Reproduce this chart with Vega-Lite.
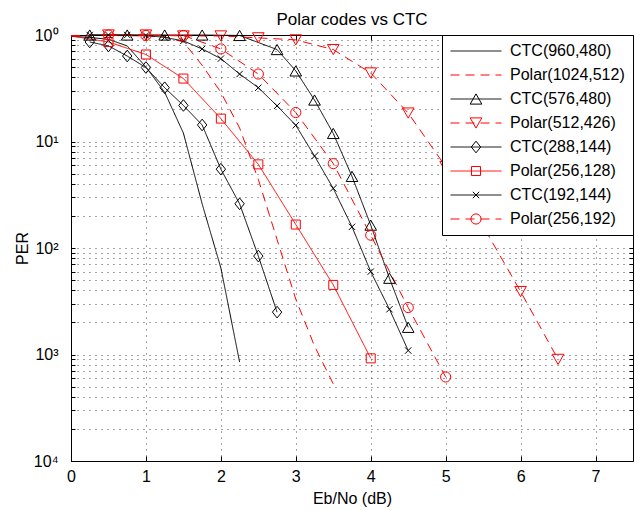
{
  "$schema": "https://vega.github.io/schema/vega-lite/v6.json",
  "width": 562,
  "height": 426,
  "autosize": "none",
  "padding": {"left": 71, "top": 35, "right": 2, "bottom": 49},
  "title": {"text": "Polar codes vs CTC", "fontSize": 17, "fontWeight": "normal", "frame": "group", "anchor": "middle", "offset": -15, "baseline": "alphabetic", "color": "#000"},
  "config": {
    "font": "Liberation Sans",
    "view": {"stroke": "#000", "strokeWidth": 1}
  },
  "data": {"values": [
    {"s": "CTC(960,480)", "x": 0, "p": 0.97},
    {"s": "CTC(960,480)", "x": 0.25, "p": 0.95},
    {"s": "CTC(960,480)", "x": 0.5, "p": 0.91},
    {"s": "CTC(960,480)", "x": 0.75, "p": 0.79},
    {"s": "CTC(960,480)", "x": 1.0, "p": 0.5},
    {"s": "CTC(960,480)", "x": 1.25, "p": 0.29},
    {"s": "CTC(960,480)", "x": 1.5, "p": 0.12},
    {"s": "CTC(960,480)", "x": 1.75, "p": 0.026},
    {"s": "CTC(960,480)", "x": 2.0, "p": 0.0065},
    {"s": "CTC(960,480)", "x": 2.25, "p": 0.00085},
    {"s": "Polar(1024,512)", "x": 0, "p": 0.99},
    {"s": "Polar(1024,512)", "x": 0.5, "p": 0.99},
    {"s": "Polar(1024,512)", "x": 1.0, "p": 0.98},
    {"s": "Polar(1024,512)", "x": 1.25, "p": 0.96},
    {"s": "Polar(1024,512)", "x": 1.5, "p": 0.86},
    {"s": "Polar(1024,512)", "x": 1.75, "p": 0.52},
    {"s": "Polar(1024,512)", "x": 2.0, "p": 0.29},
    {"s": "Polar(1024,512)", "x": 2.25, "p": 0.134},
    {"s": "Polar(1024,512)", "x": 2.5, "p": 0.044},
    {"s": "Polar(1024,512)", "x": 2.75, "p": 0.012},
    {"s": "Polar(1024,512)", "x": 3.0, "p": 0.0033},
    {"s": "Polar(1024,512)", "x": 3.25, "p": 0.0012},
    {"s": "Polar(1024,512)", "x": 3.5, "p": 0.00053},
    {"s": "CTC(576,480)", "x": 0.25, "p": 1.0},
    {"s": "CTC(576,480)", "x": 0.75, "p": 1.0},
    {"s": "CTC(576,480)", "x": 1.25, "p": 1.0},
    {"s": "CTC(576,480)", "x": 1.75, "p": 1.0},
    {"s": "CTC(576,480)", "x": 2.25, "p": 0.99},
    {"s": "CTC(576,480)", "x": 2.75, "p": 0.73},
    {"s": "CTC(576,480)", "x": 3.0, "p": 0.46},
    {"s": "CTC(576,480)", "x": 3.25, "p": 0.245},
    {"s": "CTC(576,480)", "x": 3.5, "p": 0.119},
    {"s": "CTC(576,480)", "x": 3.75, "p": 0.047},
    {"s": "CTC(576,480)", "x": 4.0, "p": 0.0164},
    {"s": "CTC(576,480)", "x": 4.25, "p": 0.0052},
    {"s": "CTC(576,480)", "x": 4.5, "p": 0.0018},
    {"s": "Polar(512,426)", "x": 0.5, "p": 1.0},
    {"s": "Polar(512,426)", "x": 1.0, "p": 1.0},
    {"s": "Polar(512,426)", "x": 1.5, "p": 0.98},
    {"s": "Polar(512,426)", "x": 2.0, "p": 0.98},
    {"s": "Polar(512,426)", "x": 2.5, "p": 0.94},
    {"s": "Polar(512,426)", "x": 3.0, "p": 0.9},
    {"s": "Polar(512,426)", "x": 3.5, "p": 0.73},
    {"s": "Polar(512,426)", "x": 4.0, "p": 0.44},
    {"s": "Polar(512,426)", "x": 4.5, "p": 0.185},
    {"s": "Polar(512,426)", "x": 5.0, "p": 0.058},
    {"s": "Polar(512,426)", "x": 5.5, "p": 0.016},
    {"s": "Polar(512,426)", "x": 6.0, "p": 0.0039},
    {"s": "Polar(512,426)", "x": 6.5, "p": 0.0009},
    {"s": "CTC(288,144)", "x": 0.25, "p": 0.86},
    {"s": "CTC(288,144)", "x": 0.5, "p": 0.79},
    {"s": "CTC(288,144)", "x": 0.75, "p": 0.635},
    {"s": "CTC(288,144)", "x": 1.0, "p": 0.495},
    {"s": "CTC(288,144)", "x": 1.25, "p": 0.32},
    {"s": "CTC(288,144)", "x": 1.5, "p": 0.218},
    {"s": "CTC(288,144)", "x": 1.75, "p": 0.143},
    {"s": "CTC(288,144)", "x": 2.0, "p": 0.055},
    {"s": "CTC(288,144)", "x": 2.25, "p": 0.026},
    {"s": "CTC(288,144)", "x": 2.5, "p": 0.0084},
    {"s": "CTC(288,144)", "x": 2.75, "p": 0.0025},
    {"s": "Polar(256,128)", "x": 0, "p": 0.98},
    {"s": "Polar(256,128)", "x": 0.5, "p": 0.86},
    {"s": "Polar(256,128)", "x": 1.0, "p": 0.656},
    {"s": "Polar(256,128)", "x": 1.5, "p": 0.39},
    {"s": "Polar(256,128)", "x": 2.0, "p": 0.164},
    {"s": "Polar(256,128)", "x": 2.5, "p": 0.061},
    {"s": "Polar(256,128)", "x": 3.0, "p": 0.0166},
    {"s": "Polar(256,128)", "x": 3.5, "p": 0.0045},
    {"s": "Polar(256,128)", "x": 4.0, "p": 0.00092},
    {"s": "CTC(192,144)", "x": 0.25, "p": 1.0},
    {"s": "CTC(192,144)", "x": 0.5, "p": 1.0},
    {"s": "CTC(192,144)", "x": 0.75, "p": 1.0},
    {"s": "CTC(192,144)", "x": 1.0, "p": 0.99},
    {"s": "CTC(192,144)", "x": 1.25, "p": 0.95},
    {"s": "CTC(192,144)", "x": 1.5, "p": 0.88},
    {"s": "CTC(192,144)", "x": 1.75, "p": 0.74},
    {"s": "CTC(192,144)", "x": 2.0, "p": 0.6},
    {"s": "CTC(192,144)", "x": 2.25, "p": 0.43},
    {"s": "CTC(192,144)", "x": 2.5, "p": 0.32},
    {"s": "CTC(192,144)", "x": 2.75, "p": 0.216},
    {"s": "CTC(192,144)", "x": 3.0, "p": 0.142},
    {"s": "CTC(192,144)", "x": 3.25, "p": 0.073},
    {"s": "CTC(192,144)", "x": 3.5, "p": 0.0363},
    {"s": "CTC(192,144)", "x": 3.75, "p": 0.0158},
    {"s": "CTC(192,144)", "x": 4.0, "p": 0.006},
    {"s": "CTC(192,144)", "x": 4.25, "p": 0.00266},
    {"s": "CTC(192,144)", "x": 4.5, "p": 0.00109},
    {"s": "Polar(256,192)", "x": 0.5, "p": 1.0},
    {"s": "Polar(256,192)", "x": 1.0, "p": 0.99},
    {"s": "Polar(256,192)", "x": 1.5, "p": 0.99},
    {"s": "Polar(256,192)", "x": 2.0, "p": 0.74},
    {"s": "Polar(256,192)", "x": 2.5, "p": 0.43},
    {"s": "Polar(256,192)", "x": 3.0, "p": 0.187},
    {"s": "Polar(256,192)", "x": 3.5, "p": 0.062},
    {"s": "Polar(256,192)", "x": 4.0, "p": 0.0132},
    {"s": "Polar(256,192)", "x": 4.5, "p": 0.00276},
    {"s": "Polar(256,192)", "x": 5.0, "p": 0.000615}
  ]},
  "layer": [
    {
      "mark": {"type": "line", "strokeWidth": 1},
      "encoding": {
        "x": {
          "field": "x", "type": "quantitative",
          "scale": {"domain": [0, 7.5], "nice": false, "zero": false},
          "axis": {
            "orient": "bottom", "values": [0, 1, 2, 3, 4, 5, 6, 7],
            "grid": true, "gridColor": "#000", "gridDash": [1, 5], "gridOpacity": 0.7, "gridWidth": 1,
            "domain": false, "tickSize": -5, "tickColor": "#000", "tickWidth": 1,
            "labelFontSize": 16, "labelColor": "#000", "labelPadding": 12, "labelFlush": false,
            "title": "Eb/No (dB)", "titleFontSize": 16, "titleFontWeight": "normal", "titleColor": "#000",
            "titleY": 42, "titleBaseline": "alphabetic"
          }
        },
        "y": {
          "field": "p", "type": "quantitative",
          "scale": {"type": "log", "domain": [0.0001, 1], "nice": false},
          "axis": {
            "orient": "left",
            "values": [0.0001, 0.0002, 0.0003, 0.0004, 0.0005, 0.0006, 0.0007, 0.0008, 0.0009, 0.001, 0.002, 0.003, 0.004, 0.005, 0.006, 0.007, 0.008, 0.009, 0.01, 0.02, 0.03, 0.04, 0.05, 0.06, 0.07, 0.08, 0.09, 0.1, 0.2, 0.3, 0.4, 0.5, 0.6, 0.7, 0.8, 0.9, 1],
            "labelExpr": "abs(log(datum.value)/LN10 - round(log(datum.value)/LN10)) < 0.001 ? '10' + ['⁰','¹','²','³','⁴'][round(-log(datum.value)/LN10)] : ''",
            "grid": true, "gridColor": "#000", "gridDash": [1, 5], "gridOpacity": 0.7, "gridWidth": 1,
            "domain": false, "tickSize": -4, "tickColor": "#000", "tickWidth": 1,
            "labelFontSize": 16, "labelColor": "#000", "labelPadding": 17, "labelFlush": false, "labelOverlap": false,
            "title": "PER", "titleFontSize": 16, "titleFontWeight": "normal", "titleColor": "#000",
            "titleX": -49, "titleBaseline": "middle"
          }
        },
        "stroke": {
          "field": "s", "type": "nominal",
          "scale": {
            "domain": ["CTC(960,480)", "Polar(1024,512)", "CTC(576,480)", "Polar(512,426)", "CTC(288,144)", "Polar(256,128)", "CTC(192,144)", "Polar(256,192)"],
            "range": ["#000000", "#ff0000", "#000000", "#ff0000", "#000000", "#ff0000", "#000000", "#ff0000"]
          },
          "legend": {
            "title": null,
            "orient": "none",
            "legendX": 371,
            "legendY": 0,
            "zindex": 1,
            "padding": 8,
            "fillColor": "#ffffff",
            "strokeColor": "#000000",
            "symbolType": "stroke",
            "symbolSize": 2601,
            "symbolStrokeWidth": 1,
            "symbolOffset": 0,
            "labelFontSize": 16,
            "labelColor": "#000",
            "labelOffset": 8,
            "labelLimit": 200,
            "rowPadding": 8,
            "clipHeight": 16
          }
        },
        "strokeDash": {
          "field": "s", "type": "nominal",
          "scale": {
            "domain": ["CTC(960,480)", "Polar(1024,512)", "CTC(576,480)", "Polar(512,426)", "CTC(288,144)", "Polar(256,128)", "CTC(192,144)", "Polar(256,192)"],
            "range": [[1, 0], [9, 6], [1, 0], [9, 6], [1, 0], [1, 0], [1, 0], [9, 6]]
          }
        }
      }
    },
    {
      "transform": [{"filter": "datum.s != 'CTC(960,480)' && datum.s != 'Polar(1024,512)' && datum.x > 0"}],
      "mark": {"type": "point", "filled": false, "strokeWidth": 1, "size": 144, "opacity": 1},
      "encoding": {
        "x": {
          "field": "x", "type": "quantitative",
          "axis": {"orient": "top", "values": [0, 1, 2, 3, 4, 5, 6, 7], "labels": false, "grid": false, "domain": false, "tickSize": -5, "tickColor": "#000", "title": null}
        },
        "y": {
          "field": "p", "type": "quantitative",
          "axis": {"orient": "right", "values": [0.0001, 0.0002, 0.0003, 0.0004, 0.0005, 0.0006, 0.0007, 0.0008, 0.0009, 0.001, 0.002, 0.003, 0.004, 0.005, 0.006, 0.007, 0.008, 0.009, 0.01, 0.02, 0.03, 0.04, 0.05, 0.06, 0.07, 0.08, 0.09, 0.1, 0.2, 0.3, 0.4, 0.5, 0.6, 0.7, 0.8, 0.9, 1], "labels": false, "grid": false, "domain": false, "tickSize": -4, "tickColor": "#000", "title": null}
        },
        "color": {
          "field": "s", "type": "nominal",
          "scale": {
            "domain": ["CTC(960,480)", "Polar(1024,512)", "CTC(576,480)", "Polar(512,426)", "CTC(288,144)", "Polar(256,128)", "CTC(192,144)", "Polar(256,192)", " "],
            "range": ["#000000", "#ff0000", "#000000", "#ff0000", "#000000", "#ff0000", "#000000", "#ff0000", "#000000"]
          },
          "legend": {
            "title": null,
            "values": ["CTC(960,480)", "Polar(1024,512)", "CTC(576,480)", "Polar(512,426)", "CTC(288,144)", "Polar(256,128)", "CTC(192,144)", "Polar(256,192)"],
            "orient": "none",
            "legendX": 371,
            "legendY": 0,
            "zindex": 2,
            "padding": 8,
            "fillColor": "transparent",
            "strokeColor": "transparent",
            "symbolSize": 144,
            "symbolStrokeWidth": 1,
            "symbolOffset": 18,
            "symbolOpacity": 1,
            "labelFontSize": 16,
            "labelColor": "transparent",
            "labelExpr": "' '",
            "labelOffset": 44,
            "labelLimit": 200,
            "rowPadding": 8,
            "clipHeight": 16
          }
        },
        "shape": {
          "field": "s", "type": "nominal",
          "scale": {
            "domain": ["CTC(960,480)", "Polar(1024,512)", "CTC(576,480)", "Polar(512,426)", "CTC(288,144)", "Polar(256,128)", "CTC(192,144)", "Polar(256,192)", " "],
            "range": ["M0,0", "M0,0", "M0,-0.85L0.97,0.85L-0.97,0.85Z", "M0,0.85L0.97,-0.85L-0.97,-0.85Z", "M0,-0.97L0.78,0L0,0.97L-0.78,0Z", "M-0.75,-0.75H0.75V0.75H-0.75Z", "M-0.53,-0.53L0.53,0.53M-0.53,0.53L0.53,-0.53", "M-0.85,0A0.85,0.85,0,1,1,0.85,0A0.85,0.85,0,1,1,-0.85,0Z", "M0,0"]
          }
        }
      }
    }
  ],
  "resolve": {"axis": {"x": "independent", "y": "independent"}}
}
